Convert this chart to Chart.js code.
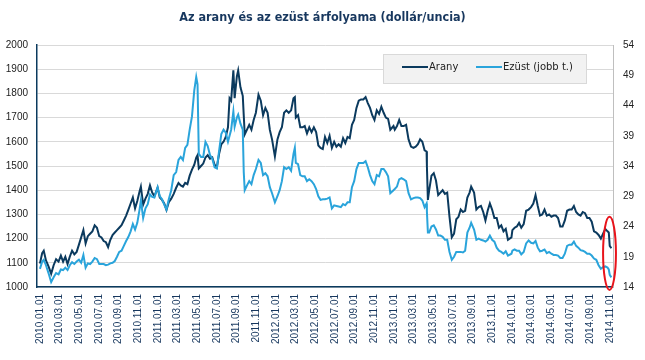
<!DOCTYPE html>
<html><head><meta charset="utf-8">
<script src="https://cdn.jsdelivr.net/npm/chart.js@4.4.1/dist/chart.umd.min.js"></script>
<style>html,body{margin:0;padding:0;background:#fff}#wrap{width:645px;height:360px}</style>
</head><body><div id="wrap"><canvas id="c" width="645" height="360"></canvas></div>
<script>
const titleText = 'Az arany és az ezüst árfolyama (dollár/uncia)';
const seriesNames = ['Arany', 'Ezüst (jobb t.)'];
const dates = [
'2010-01-01','2010-01-08','2010-01-13','2010-01-20','2010-01-28','2010-02-05','2010-02-12','2010-02-19','2010-02-26','2010-03-05','2010-03-12','2010-03-19','2010-03-26','2010-04-02','2010-04-09','2010-04-16','2010-04-23','2010-04-30','2010-05-07','2010-05-14','2010-05-21','2010-05-28','2010-06-04','2010-06-11','2010-06-18','2010-06-25','2010-07-02','2010-07-09','2010-07-16','2010-07-23','2010-07-30','2010-08-06','2010-08-13','2010-08-20','2010-08-27','2010-09-03','2010-09-10','2010-09-17','2010-09-24','2010-10-01','2010-10-08','2010-10-15','2010-10-22','2010-10-29','2010-11-05','2010-11-09','2010-11-16','2010-11-23','2010-11-30','2010-12-07','2010-12-14','2010-12-21','2010-12-31',
'2011-01-07','2011-01-14','2011-01-21','2011-01-28','2011-02-04','2011-02-11','2011-02-18','2011-02-25','2011-03-04','2011-03-11','2011-03-18','2011-03-25','2011-04-01','2011-04-08','2011-04-15','2011-04-22','2011-04-28','2011-05-02','2011-05-06','2011-05-13','2011-05-20','2011-05-27','2011-06-03','2011-06-10','2011-06-17','2011-06-24','2011-07-01','2011-07-08','2011-07-15','2011-07-22','2011-07-29','2011-08-05','2011-08-10','2011-08-15','2011-08-22','2011-08-26','2011-09-02','2011-09-06','2011-09-13','2011-09-20','2011-09-23','2011-09-26','2011-10-03','2011-10-10','2011-10-17','2011-10-24','2011-10-31','2011-11-08','2011-11-15','2011-11-22','2011-11-29','2011-12-06','2011-12-13','2011-12-20','2011-12-29',
'2012-01-06','2012-01-13','2012-01-20','2012-01-27','2012-02-03','2012-02-10','2012-02-17','2012-02-24','2012-02-28','2012-03-02','2012-03-09','2012-03-16','2012-03-23','2012-03-30','2012-04-06','2012-04-13','2012-04-20','2012-04-27','2012-05-04','2012-05-11','2012-05-18','2012-05-25','2012-06-01','2012-06-08','2012-06-15','2012-06-22','2012-06-29','2012-07-06','2012-07-13','2012-07-20','2012-07-27','2012-08-03','2012-08-10','2012-08-17','2012-08-24','2012-08-31','2012-09-07','2012-09-14','2012-09-21','2012-09-28','2012-10-05','2012-10-12','2012-10-19','2012-10-26','2012-11-02','2012-11-09','2012-11-16','2012-11-23','2012-11-30','2012-12-07','2012-12-14','2012-12-21','2012-12-31',
'2013-01-04','2013-01-11','2013-01-18','2013-01-25','2013-02-01','2013-02-08','2013-02-15','2013-02-22','2013-03-01','2013-03-08','2013-03-15','2013-03-22','2013-03-29','2013-04-05','2013-04-11','2013-04-12','2013-04-15','2013-04-19','2013-04-26','2013-05-03','2013-05-10','2013-05-17','2013-05-24','2013-05-31','2013-06-07','2013-06-14','2013-06-21','2013-06-28','2013-07-05','2013-07-12','2013-07-19','2013-07-26','2013-08-02','2013-08-09','2013-08-16','2013-08-23','2013-08-28','2013-09-06','2013-09-13','2013-09-20','2013-09-27','2013-10-04','2013-10-11','2013-10-18','2013-10-25','2013-11-01','2013-11-08','2013-11-15','2013-11-22','2013-11-29','2013-12-06','2013-12-13','2013-12-20','2013-12-31',
'2014-01-03','2014-01-10','2014-01-17','2014-01-24','2014-01-31','2014-02-07','2014-02-14','2014-02-21','2014-02-28','2014-03-07','2014-03-14','2014-03-21','2014-03-28','2014-04-04','2014-04-11','2014-04-18','2014-04-25','2014-05-02','2014-05-09','2014-05-16','2014-05-23','2014-05-30','2014-06-06','2014-06-13','2014-06-20','2014-06-27','2014-07-04','2014-07-11','2014-07-18','2014-07-25','2014-08-01','2014-08-08','2014-08-15','2014-08-22','2014-08-29','2014-09-05','2014-09-12','2014-09-19','2014-09-26','2014-10-03','2014-10-10','2014-10-17','2014-10-24','2014-10-28','2014-10-31','2014-11-05'
];
const gold = [
1097,1140,1150,1110,1085, 1055,1090,1115,1105, 1130,1105,1125,1095, 1125,1150,1135,1145,1175, 1205,1235,1180,1210, 1220,1230,1255,1245, 1210,1205,1190,1185,1165, 1195,1215,1225,1235, 1245,1255,1275,1295, 1320,1345,1370,1325,1355, 1395,1415,1340,1365,1385, 1420,1390,1375,1410,
1370,1360,1345,1318, 1350,1365,1385,1410, 1430,1420,1415,1430, 1425,1460,1485,1505,1535, 1545,1490,1500,1510,1535, 1545,1530,1535,1505, 1495,1550,1590,1600,1620, 1660,1780,1770,1895,1780, 1870,1895,1825,1790,1710,1630, 1650,1670,1650,1690,1720, 1795,1770,1710,1740, 1720,1650,1610,1540,
1610,1640,1660,1720, 1730,1720,1730,1780,1785, 1700,1710,1660,1660,1665, 1635,1660,1640,1660, 1640,1585,1575,1570, 1620,1595,1625,1575,1600, 1580,1590,1580,1615, 1595,1620,1615,1670,1690, 1740,1770,1775,1775, 1785,1760,1740,1710, 1690,1730,1715,1745,1720, 1700,1695,1650,1665,
1650,1665,1690,1665, 1665,1670,1610,1580, 1575,1580,1590,1610,1600, 1565,1560,1500,1360,1400,1460, 1470,1440,1380,1390,1400, 1385,1390,1290,1205, 1220,1280,1290,1320, 1310,1315,1370,1390,1415, 1390,1320,1330,1335, 1310,1275,1315,1345, 1320,1285,1285,1245,1255, 1230,1240,1195,1205,
1235,1245,1250,1265,1245, 1260,1315,1320,1330, 1345,1380,1335,1295, 1300,1320,1295,1300, 1290,1295,1295,1285,1250, 1250,1275,1315,1320, 1320,1335,1310,1300, 1295,1310,1305,1285,1285, 1270,1230,1225,1215, 1200,1220,1240,1230,1225,1170, 1160
];
const silver = [
17.0,18.2,18.5,17.6,16.3, 14.8,15.6,16.3,16.1, 16.9,16.8,17.2,16.8, 17.6,18.1,17.8,18.2,18.5, 18.0,19.3,17.2,17.9, 17.8,18.2,18.8,18.6, 17.8,17.8,17.8,17.6,17.7, 17.9,18.0,18.3,19.0, 19.8,20.0,20.8,21.6, 22.3,23.2,24.4,23.5,24.6, 26.8,28.3,25.4,27.0,27.7, 29.3,28.9,28.8,30.5,
29.0,28.5,27.6,26.8, 28.5,30.0,32.5,33.0, 35.0,35.5,35.0,37.0, 37.5,40.0,42.2,46.5,48.7, 47.5,36.0,35.5,35.5,38.0, 37.3,35.8,35.2,33.8, 33.6,36.5,39.3,40.0,39.5, 38.0,39.0,40.0,43.0,40.5, 42.0,42.5,41.0,40.0,33.0,30.0, 30.8,31.5,31.0,32.5,33.5, 35.0,34.5,32.5,32.8, 32.3,30.5,29.5,28.0,
29.0,30.0,31.5,33.8, 33.5,33.8,33.2,36.0,37.0, 34.5,34.3,32.5,32.3,32.3, 31.5,31.8,31.5,31.0, 30.2,29.0,28.4,28.5, 28.5,28.6,28.8,27.0,27.5, 27.4,27.3,27.2,27.7, 27.5,28.0,28.0,30.5,31.5, 33.5,34.5,34.5,34.5, 34.8,33.8,32.5,31.5, 31.0,32.5,32.3,33.5,33.5, 33.0,32.3,29.5,30.0,
30.2,30.6,31.8,32.0, 31.8,31.5,29.5,28.5, 28.7,28.8,28.8,28.7,28.3, 27.2,27.8,26.5,23.0,23.0,24.0, 24.2,23.5,22.5,22.5,22.3, 21.8,21.8,19.8,18.5, 19.0,19.8,19.8,19.8, 19.7,20.0,23.0,23.8,24.6, 23.5,21.8,22.0,21.8, 21.7,21.5,21.8,22.5, 21.8,21.5,20.5,20.0,19.8, 19.5,19.9,19.2,19.5,
20.0,20.2,20.0,20.0,19.4, 19.8,21.2,21.7,21.3, 21.2,21.6,20.5,19.9, 20.0,20.2,19.6,19.8, 19.5,19.3,19.3,19.2,18.8, 18.8,19.5,20.8,21.0, 21.0,21.5,20.8,20.5, 20.1,20.0,19.8,19.5,19.5, 19.2,18.7,18.5,17.6, 17.0,17.3,17.4,17.2,16.9,16.0, 15.6
];
const xTickLabels = ['2010.01.01','2010.03.01','2010.05.01','2010.07.01','2010.09.01','2010.11.01','2011.01.01','2011.03.01','2011.05.01','2011.07.01','2011.09.01','2011.11.01','2012.01.01','2012.03.01','2012.05.01','2012.07.01','2012.09.01','2012.11.01','2013.01.01','2013.03.01','2013.05.01','2013.07.01','2013.09.01','2013.11.01','2014.01.01','2014.03.01','2014.05.01','2014.07.01','2014.09.01','2014.11.01'];
const leftTicks = [1000,1100,1200,1300,1400,1500,1600,1700,1800,1900,2000];
const rightTicks = [14,19,24,29,34,39,44,49,54];
// highlighted region (red ellipse): date range and left-axis value range
const highlight = {from: '2014-10-10', to: '2014-11-19', low: 988, high: 1290};

function monthIndex(s) {
  const p = s.split(/[-.]/).map(Number);
  const dim = new Date(p[0], p[1], 0).getDate();
  return (p[0] - 2010) * 12 + (p[1] - 1) + (p[2] - 1) / dim;
}
const xTickVals = xTickLabels.map(monthIndex);
const labelByVal = {};
xTickLabels.forEach((l, i) => labelByVal[xTickVals[i].toFixed(3)] = l);

const goldPts = dates.map((d, i) => ({x: monthIndex(d), y: gold[i]}));
const silverPts = dates.map((d, i) => ({x: monthIndex(d), y: silver[i]}));

const NAVY = '#0B3A5E', LIGHT = '#2AA4DB';

const overlay = {
  id: 'overlay',
  afterDatasetsDraw(chart) {
    const ctx = chart.ctx;
    const xs = chart.scales.x, ys = chart.scales.y;
    const x1 = xs.getPixelForValue(monthIndex(highlight.from)), x2 = xs.getPixelForValue(monthIndex(highlight.to));
    const y1 = ys.getPixelForValue(highlight.high), y2 = ys.getPixelForValue(highlight.low);
    ctx.save();
    ctx.beginPath();
    ctx.ellipse((x1 + x2) / 2, (y1 + y2) / 2, (x2 - x1) / 2, (y2 - y1) / 2, 0, 0, Math.PI * 2);
    ctx.strokeStyle = '#E8141B';
    ctx.lineWidth = 2;
    ctx.stroke();
    const bx = 383, by = 54, bw = 204, bh = 30;
    ctx.fillStyle = '#F2F2F2';
    ctx.fillRect(bx, by, bw, bh);
    ctx.strokeStyle = '#D9D9D9';
    ctx.lineWidth = 1;
    ctx.strokeRect(bx + 0.5, by + 0.5, bw - 1, bh - 1);
    ctx.font = '10px "DejaVu Sans"';
    ctx.textBaseline = 'middle';
    ctx.fillStyle = '#222';
    const ly = by + 13;
    const items = [[402, NAVY, seriesNames[0]], [476, LIGHT, seriesNames[1]]];
    items.forEach(([lx, col, txt]) => {
      ctx.strokeStyle = col; ctx.lineWidth = 2;
      ctx.beginPath(); ctx.moveTo(lx, ly); ctx.lineTo(lx + 26, ly); ctx.stroke();
      ctx.fillText(txt, lx + 27, ly);
    });
    ctx.restore();
  }
};

new Chart(document.getElementById('c'), {
  type: 'line',
  data: {
    datasets: [
      {label: seriesNames[0], data: goldPts, yAxisID: 'y', borderColor: NAVY, borderWidth: 2, pointRadius: 0, tension: 0, order: 2},
      {label: seriesNames[1], data: silverPts, yAxisID: 'y2', borderColor: LIGHT, borderWidth: 2, pointRadius: 0, tension: 0, order: 1}
    ]
  },
  options: {
    responsive: false,
    animation: false,
    layout: {padding: 0},
    plugins: {
      legend: {display: false},
      tooltip: {enabled: false},
      title: {display: true, text: titleText, color: '#17375E',
        font: {family: '"DejaVu Sans Condensed", "DejaVu Sans"', size: 12.5, weight: 'bold'},
        padding: {top: 10, bottom: 20}}
    },
    scales: {
      x: {
        type: 'linear', min: -0.3, max: 58.3,
        afterBuildTicks(s) { s.ticks = xTickVals.map(v => ({value: v})); },
        afterFit(s) { s.height = 73; },
        grid: {display: false, drawTicks: false},
        border: {display: true, color: NAVY, width: 1.5},
        ticks: {autoSkip: false, maxRotation: 90, minRotation: 90, padding: 7, color: '#17375E',
          font: {family: '"Liberation Sans", Arial', size: 10},
          callback(v) { return labelByVal[Number(v).toFixed(3)] || ''; }}
      },
      y: {
        position: 'left', min: 1000, max: 2000,
        afterBuildTicks(s) { s.ticks = leftTicks.map(v => ({value: v})); },
        afterFit(s) { s.width = 37; },
        grid: {color: '#D9D9D9', lineWidth: 1, drawTicks: false},
        border: {display: true, color: NAVY, width: 1.5},
        ticks: {padding: 9, color: '#222', font: {family: '"Liberation Sans", Arial', size: 10},
          callback(v) { return String(v); }}
      },
      y2: {
        position: 'right', min: 14, max: 54,
        afterBuildTicks(s) { s.ticks = rightTicks.map(v => ({value: v})); },
        afterFit(s) { s.width = 32; },
        grid: {display: false, drawTicks: false},
        border: {display: true, color: '#BFBFBF', width: 1},
        ticks: {padding: 10, color: '#222', font: {family: '"Liberation Sans", Arial', size: 10},
          callback(v) { return String(v); }}
      }
    }
  },
  plugins: [overlay]
});
</script>
</body></html>
